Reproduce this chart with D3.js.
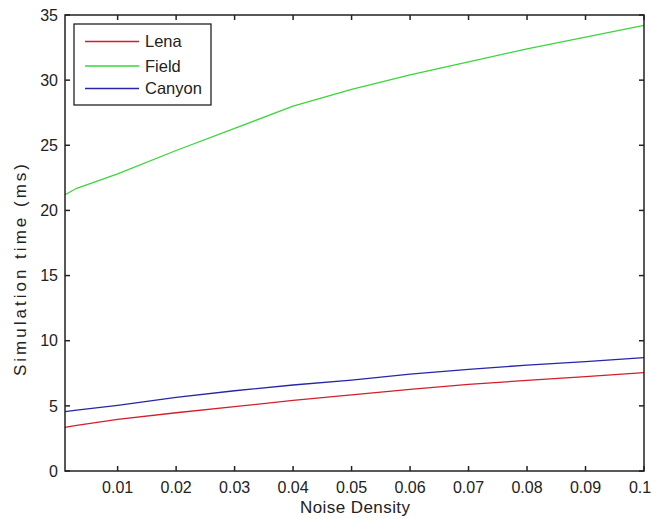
<!DOCTYPE html>
<html>
<head>
<meta charset="utf-8">
<script src="https://cdn.jsdelivr.net/npm/d3@7"></script>
<style>
  body { margin: 0; background: #fff; }
  svg { display: block; }
  text { font-family: "Liberation Sans", Arial, sans-serif; fill: #222; }
</style>
</head>
<body>
<svg id="chart" width="652" height="519"></svg>
<script>
// ---- data ----
const noiseDensity = [0.001, 0.003, 0.01, 0.02, 0.03, 0.04, 0.05, 0.06, 0.07, 0.08, 0.09, 0.1];
const lena   = [3.35, 3.5, 3.97, 4.47, 4.94, 5.42, 5.85, 6.27, 6.65, 6.95, 7.25, 7.55];
const field  = [21.2, 21.7, 22.8, 24.6, 26.3, 28.0, 29.3, 30.4, 31.4, 32.4, 33.3, 34.2];
const canyon = [4.55, 4.67, 5.04, 5.65, 6.16, 6.6, 6.98, 7.44, 7.8, 8.13, 8.4, 8.7];
const seriesNames = ["Lena", "Field", "Canyon"];
const seriesColors = ["#d21f2b", "#3ad63a", "#2626a6"];
const xTicks = [0.01, 0.02, 0.03, 0.04, 0.05, 0.06, 0.07, 0.08, 0.09, 0.1];
const yTicks = [0, 5, 10, 15, 20, 25, 30, 35];
const xLabel = "Noise Density";
const yLabel = "Simulation time (ms)";

const series = [lena, field, canyon].map((vals, i) => ({
  name: seriesNames[i], color: seriesColors[i],
  points: vals.map((v, j) => ({x: noiseDensity[j], y: v}))
}));

// ---- layout ----
const svg = d3.select("#chart");
const L = 65, R = 644, T = 15, B = 471;
const x = d3.scaleLinear().domain([0.001, 0.1]).range([L, R]);
const y = d3.scaleLinear().domain([0, 35]).range([B, T]);
const axisColor = "#222";
const tickLen = 5;

// lines
const line = d3.line().x(d => x(d.x)).y(d => y(d.y));
svg.append("g").selectAll("path").data(series).join("path")
  .attr("d", d => line(d.points))
  .attr("fill", "none")
  .attr("stroke", d => d.color)
  .attr("stroke-width", 1.3);

// box
svg.append("rect").attr("x", L).attr("y", T).attr("width", R - L).attr("height", B - T)
  .attr("fill", "none").attr("stroke", axisColor).attr("stroke-width", 1.5);

// ticks (inward on all four sides)
const tg = svg.append("g").attr("stroke", axisColor).attr("stroke-width", 1.5);
xTicks.forEach(t => {
  tg.append("line").attr("x1", x(t)).attr("x2", x(t)).attr("y1", B).attr("y2", B - tickLen);
  tg.append("line").attr("x1", x(t)).attr("x2", x(t)).attr("y1", T).attr("y2", T + tickLen);
});
yTicks.forEach(t => {
  tg.append("line").attr("x1", L).attr("x2", L + tickLen).attr("y1", y(t)).attr("y2", y(t));
  tg.append("line").attr("x1", R).attr("x2", R - tickLen).attr("y1", y(t)).attr("y2", y(t));
});

// tick labels
svg.append("g").selectAll("text").data(xTicks).join("text")
  .attr("x", d => Math.min(x(d), 640)).attr("y", 493)
  .attr("text-anchor", "middle").attr("font-size", 16)
  .text(d => d3.format("~g")(d));
svg.append("g").selectAll("text").data(yTicks).join("text")
  .attr("x", 58).attr("y", d => y(d)).attr("dy", "0.36em")
  .attr("text-anchor", "end").attr("font-size", 16)
  .text(d => d);

// axis titles
svg.append("text").attr("x", 355).attr("y", 513)
  .attr("text-anchor", "middle").attr("font-size", 17)
  .attr("textLength", 110).attr("lengthAdjust", "spacing")
  .text(xLabel);
svg.append("text")
  .attr("transform", `translate(26,270) rotate(-90)`)
  .attr("text-anchor", "middle").attr("font-size", 17)
  .attr("textLength", 212).attr("lengthAdjust", "spacing")
  .text(yLabel);

// legend
const lg = svg.append("g");
lg.append("rect").attr("x", 74).attr("y", 24).attr("width", 137).attr("height", 81)
  .attr("fill", "#fff").attr("stroke", axisColor).attr("stroke-width", 1.3);
const rowY = [41.5, 66, 88.5];
series.forEach((s, i) => {
  lg.append("line").attr("x1", 85).attr("x2", 139).attr("y1", rowY[i]).attr("y2", rowY[i])
    .attr("stroke", s.color).attr("stroke-width", 1.3);
  lg.append("text").attr("x", 145).attr("y", rowY[i]).attr("dy", "0.36em")
    .attr("font-size", 16.5).text(s.name);
});
</script>
</body>
</html>
